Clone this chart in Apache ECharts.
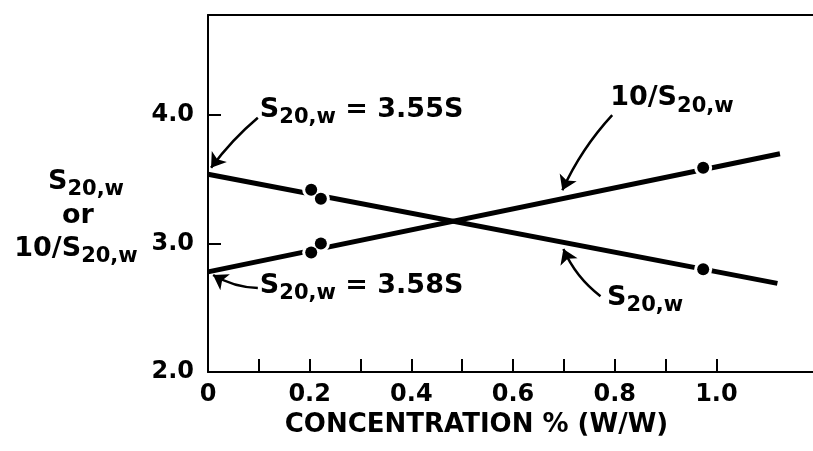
<!DOCTYPE html>
<html>
<head>
<meta charset="utf-8">
<script src="https://cdn.jsdelivr.net/npm/echarts@6/dist/echarts.min.js"></script>
<style>
  html, body { margin: 0; background: #fff; }
  #chart { width: 813px; height: 451px; }
</style>
</head>
<body>
<div id="chart"></div>
<script>
// measured points (concentration %, S20,w and 10/S20,w)
var concentration = [0.203, 0.222, 0.974]
var sValues = [3.42, 3.35, 2.80]
var invValues = [2.93, 3.00, 3.59]

// straight fitted lines, end points
var sFitX = [0, 1.12]
var sFit = [3.54, 2.69]
var invFitX = [0, 1.125]
var invFit = [2.78, 3.70]

// ticks and labels
var xTicks = [0.1, 0.2, 0.3, 0.4, 0.5, 0.6, 0.7, 0.8, 0.9, 1.0]
var xLabels = [0, 0.2, 0.4, 0.6, 0.8, 1.0]
var yNameLines = ['{s|S}{sub|20,w}', '{s|or}', '{s|10/S}{sub|20,w}']

var FONT = 'DejaVu Sans'
var rich = {
  s: { fontFamily: FONT, fontSize: 27, fontWeight: 'bold', color: '#000' },
  sub: { fontFamily: FONT, fontSize: 21, fontWeight: 'bold', color: '#000', padding: [16, 0, 0, 0] }
}

// annotations: text anchor and arrow (tail -> tip), in data units
var notes = [
  { text: '{s|S}{sub|20,w}{s| = 3.55S}', at: [0.102, 4.04], tail: [0.098, 3.98], tip: [0.006, 3.59], curve: -0.06 },
  { text: '{s|S}{sub|20,w}{s| = 3.58S}', at: [0.102, 2.67], tail: [0.098, 2.654], tip: [0.01, 2.755], curve: 0.13 },
  { text: '{s|10/S}{sub|20,w}', at: [0.791, 4.13], tail: [0.795, 4.0], tip: [0.697, 3.416], curve: -0.08 },
  { text: '{s|S}{sub|20,w}', at: [0.785, 2.576], tail: [0.772, 2.59], tip: [0.699, 2.957], curve: 0.13 }
]

function zip(xs, ys) {
  return xs.map(function (x, i) { return [x, ys[i]] })
}

var points = zip(concentration, sValues).concat(zip(concentration, invValues))

var yRange = { type: 'value', min: 2, max: 4.78, interval: 1, splitLine: { show: false } }

var chart = echarts.init(document.getElementById('chart'))
chart.setOption({
  animation: false,
  backgroundColor: '#fff',
  grid: { left: 208, right: 0, top: 15, bottom: 79 },
  xAxis: [{
    type: 'value',
    min: 0,
    max: 1.19,
    splitLine: { show: false },
    axisLine: { lineStyle: { color: '#000', width: 2 } },
    axisTick: { inside: true, length: 13, customValues: xTicks, lineStyle: { color: '#000', width: 2 } },
    axisLabel: {
      customValues: xLabels,
      margin: 11,
      color: '#000',
      fontFamily: FONT,
      fontWeight: 'bold',
      fontSize: 24,
      formatter: function (v) { return v === 0 ? '0' : v.toFixed(1) }
    },
    name: 'CONCENTRATION % (W/W)',
    nameLocation: 'middle',
    nameGap: 37,
    nameTextStyle: { color: '#000', fontFamily: FONT, fontWeight: 'bold', fontSize: 26, padding: [0, 0, 0, -68] }
  }, {
    type: 'value',
    position: 'top',
    min: 0,
    max: 1.19,
    splitLine: { show: false },
    axisLine: { lineStyle: { color: '#000', width: 2 } },
    axisTick: { show: false },
    axisLabel: { show: false }
  }],
  yAxis: [Object.assign({}, yRange, {
    axisLine: { lineStyle: { color: '#000', width: 2 } },
    axisTick: { show: false },
    axisLabel: {
      margin: 14,
      showMaxLabel: false,
      color: '#000',
      fontFamily: FONT,
      fontWeight: 'bold',
      fontSize: 24,
      formatter: function (v) { return v.toFixed(1) }
    }
  }), Object.assign({}, yRange, {
    // second copy shifted into the plot so its ticks point inward
    position: 'left',
    offset: -13,
    axisLine: { show: false },
    axisTick: { length: 13, lineStyle: { color: '#000', width: 2 } },
    axisLabel: { show: false }
  })],
  graphic: yNameLines.map(function (t, i) {
    return {
      type: 'text',
      x: [86, 78, 76][i],
      y: [182, 216, 249][i],
      style: { text: t, align: 'center', verticalAlign: 'middle', rich: rich }
    }
  }),
  series: [{
    type: 'line',
    data: zip(sFitX, sFit),
    symbol: 'none',
    lineStyle: { color: '#000', width: 5 },
    z: 2
  }, {
    type: 'line',
    data: zip(invFitX, invFit),
    symbol: 'none',
    lineStyle: { color: '#000', width: 5 },
    z: 2
  }, {
    // white gap around each dot
    type: 'scatter',
    data: points,
    symbolSize: 18,
    itemStyle: { color: '#fff', opacity: 1 },
    z: 3
  }, {
    type: 'scatter',
    data: points,
    symbolSize: 12,
    itemStyle: { color: '#000', opacity: 1 },
    z: 4
  }, {
    type: 'lines',
    coordinateSystem: 'cartesian2d',
    symbol: ['none', 'arrow'],
    symbolSize: 14,
    lineStyle: { color: '#000', width: 2.5, opacity: 1 },
    data: notes.map(function (n) {
      return { coords: [n.tail, n.tip], lineStyle: { curveness: n.curve } }
    }),
    z: 5
  }, {
    type: 'scatter',
    symbolSize: 0,
    itemStyle: { opacity: 1 },
    data: notes.map(function (n) {
      return { value: n.at, label: { formatter: n.text } }
    }),
    label: { show: true, position: 'right', distance: 0, color: '#000', rich: rich },
    z: 6
  }]
})
</script>
</body>
</html>
